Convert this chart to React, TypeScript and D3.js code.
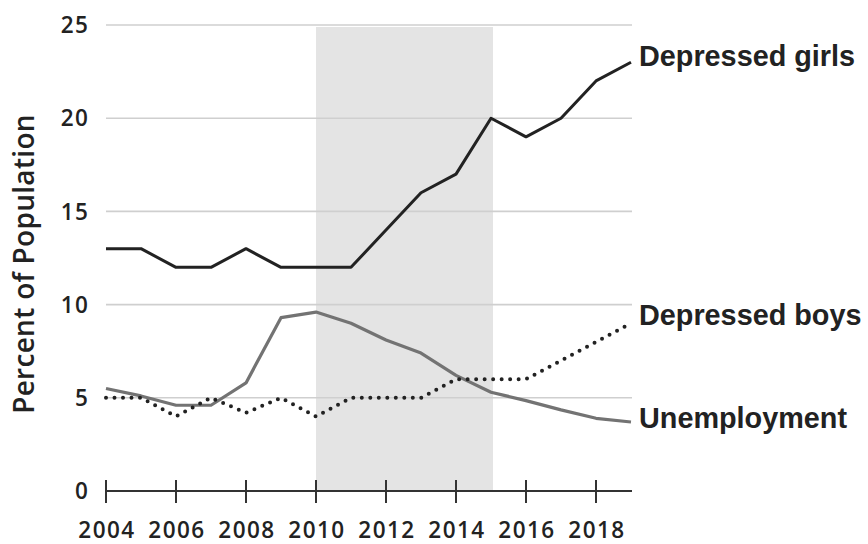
import React from "react";
import * as d3 from "d3";

const years = [2004, 2005, 2006, 2007, 2008, 2009, 2010, 2011, 2012, 2013, 2014, 2015, 2016, 2017, 2018, 2019];
const depressedGirls = [13, 13, 12, 12, 13, 12, 12, 12, 14, 16, 17, 20, 19, 20, 22, 23];
const unemployment = [5.5, 5.1, 4.6, 4.6, 5.8, 9.3, 9.6, 9.0, 8.1, 7.4, 6.2, 5.3, 4.85, 4.35, 3.9, 3.7];
const depressedBoys = [5, 5, 4, 5, 4.2, 5, 4, 5, 5, 5, 6, 6, 6, 7, 8, 9];
const yTicks = [0, 5, 10, 15, 20, 25];
const xTicks = [2004, 2006, 2008, 2010, 2012, 2014, 2016, 2018];
const shadedPeriod = [2010, 2015];
const seriesLabels = ["Depressed girls", "Depressed boys", "Unemployment"];

const W = 868;
const H = 544;

export default function App() {
  const x = d3.scaleLinear().domain([2004, 2019]).range([106, 631]);
  const y = d3.scaleLinear().domain([0, 25]).range([491, 25]);

  const line = d3
    .line<number>()
    .x((_, i) => x(years[i]))
    .y((d) => y(d));

  const numFont = "'Open Sans', sans-serif";
  const labelFont = "'Liberation Sans', Arial, sans-serif";

  return (
    <svg
      width={W}
      height={H}
      style={{ position: "absolute", left: 0, top: 0, background: "#fff" }}
    >
      <rect width={W} height={H} fill="#fff" />
      {/* shaded period */}
      <rect
        x={x(shadedPeriod[0])}
        y={y(25) + 2}
        width={x(shadedPeriod[1]) - x(shadedPeriod[0]) + 2}
        height={y(0) - y(25) - 2}
        fill="#e4e4e4"
      />
      {/* gridlines */}
      {yTicks
        .filter((t) => t > 0)
        .map((t) => (
          <line
            key={t}
            x1={x(2004)}
            x2={x(2019) + 1}
            y1={y(t)}
            y2={y(t)}
            stroke="#cfcfcf"
            strokeWidth={1.6}
          />
        ))}
      {/* y tick labels */}
      {yTicks.map((t) => (
        <text
          key={t}
          x={89}
          y={y(t)}
          dy="0.36em"
          textAnchor="end"
          fontFamily={numFont}
          fontSize={22.5}
          fontWeight={600}
          fill="#222"
          letterSpacing={1.2}
        >
          {t}
        </text>
      ))}
      {/* x axis */}
      <line x1={x(2004)} x2={x(2019) + 1} y1={y(0)} y2={y(0)} stroke="#333" strokeWidth={2} />
      {xTicks.map((t) => (
        <g key={t}>
          <line x1={x(t)} x2={x(t)} y1={y(0) - 11} y2={y(0) + 12} stroke="#333" strokeWidth={2} />
          <text
            x={x(t) + 1}
            y={538}
            textAnchor="middle"
            fontFamily={numFont}
            fontSize={22.5}
            fontWeight={600}
            fill="#222"
            letterSpacing={1.5}
          >
            {t}
          </text>
        </g>
      ))}
      {/* y axis title */}
      <text
        transform={`translate(34, 264) rotate(-90)`}
        textAnchor="middle"
        fontFamily={numFont}
        fontSize={28}
        fontWeight={600}
        fill="#222"
        letterSpacing={0.3}
      >
        Percent of Population
      </text>
      {/* lines */}
      <path d={line(unemployment) || ""} fill="none" stroke="#737373" strokeWidth={3.2} strokeLinejoin="round" />
      <path
        d={line(depressedBoys) || ""}
        fill="none"
        stroke="#222"
        strokeWidth={4}
        strokeDasharray="0 8.5"
        strokeLinecap="round"
      />
      <path d={line(depressedGirls) || ""} fill="none" stroke="#222" strokeWidth={3} strokeLinejoin="round" />
      {/* series labels */}
      {[66, 325, 428].map((by, i) => (
        <text
          key={i}
          x={639}
          y={by}
          fontFamily={labelFont}
          fontSize={28.8}
          fontWeight={700}
          fill="#222"
        >
          {seriesLabels[i]}
        </text>
      ))}
    </svg>
  );
}
